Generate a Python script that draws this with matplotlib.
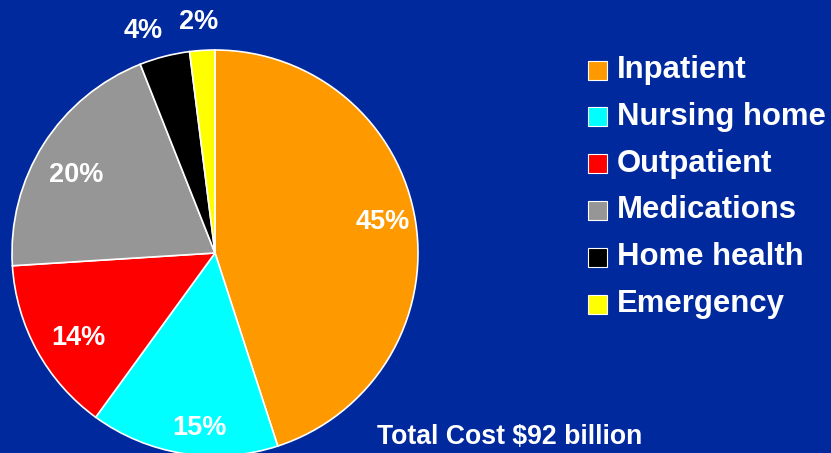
import numpy as np
import matplotlib
matplotlib.use("Agg")
import matplotlib.pyplot as plt
from matplotlib.patches import Rectangle

categories = ["Inpatient", "Nursing home", "Outpatient", "Medications", "Home health", "Emergency"]
shares = [45, 15, 14, 20, 4, 2]
colors = ["#FF9900", "#00FFFF", "#FF0000", "#969696", "#000000", "#FFFF00"]
total_label = "Total Cost $92 billion"

# label placement (radius as fraction of pie radius, angular nudge in degrees)
label_radius = [0.84, 0.865, 0.79, 0.785, 1.15, 1.14]
label_nudge = [1.5, 4.0, 3.0, 3.0, 3.5, 0.4]

bg = "#00299E"
plt.rcParams["font.family"] = ["Liberation Sans", "DejaVu Sans"]
plt.rcParams["font.weight"] = "bold"

W, H = 831, 453
fig = plt.figure(figsize=(W / 100, H / 100), dpi=100, facecolor=bg)

# pie axes: radius 203 px, centre at (215, 253) from top-left
R = 203
cx, cy = 215, H - 253
ax = fig.add_axes([(cx - R) / W, (cy - R) / H, 2 * R / W, 2 * R / H])
ax.axis("off")

wedges, _ = ax.pie(shares, colors=colors, startangle=90, counterclock=False,
                   radius=1.0, center=(0, 0), frame=False,
                   wedgeprops=dict(edgecolor="white", linewidth=1.2))
ax.set_xlim(-1, 1)
ax.set_ylim(-1, 1)
ax.set_aspect("auto")
for w in wedges:
    w.set_clip_on(False)

for w, val, r, nd in zip(wedges, shares, label_radius, label_nudge):
    mid = np.deg2rad((w.theta1 + w.theta2) / 2 + nd)
    ax.text(r * np.cos(mid), r * np.sin(mid), f"{val}%", color="white",
            fontsize=19.5, fontweight="bold", ha="center", va="center", clip_on=False)

# legend drawn as squares and labels in pixel space
sq = 19
x_sq = 588
y0, dy = 70, 46.8
for i, (name, col) in enumerate(zip(categories, colors)):
    yc = y0 + i * dy
    fig.patches.append(Rectangle((x_sq / W, (H - yc - sq / 2) / H), sq / W, sq / H,
                                 transform=fig.transFigure, facecolor=col,
                                 edgecolor="white", linewidth=0.8))
    fig.text(617 / W, (H - yc) / H, name, color="white", fontsize=22.4,
             fontweight="bold", ha="left", va="center")

fig.text(377 / W, (H - 437) / H, total_label, color="white", fontsize=19.2,
         fontweight="bold", ha="left", va="center")

fig.savefig("out.png", dpi=100, facecolor=bg)
